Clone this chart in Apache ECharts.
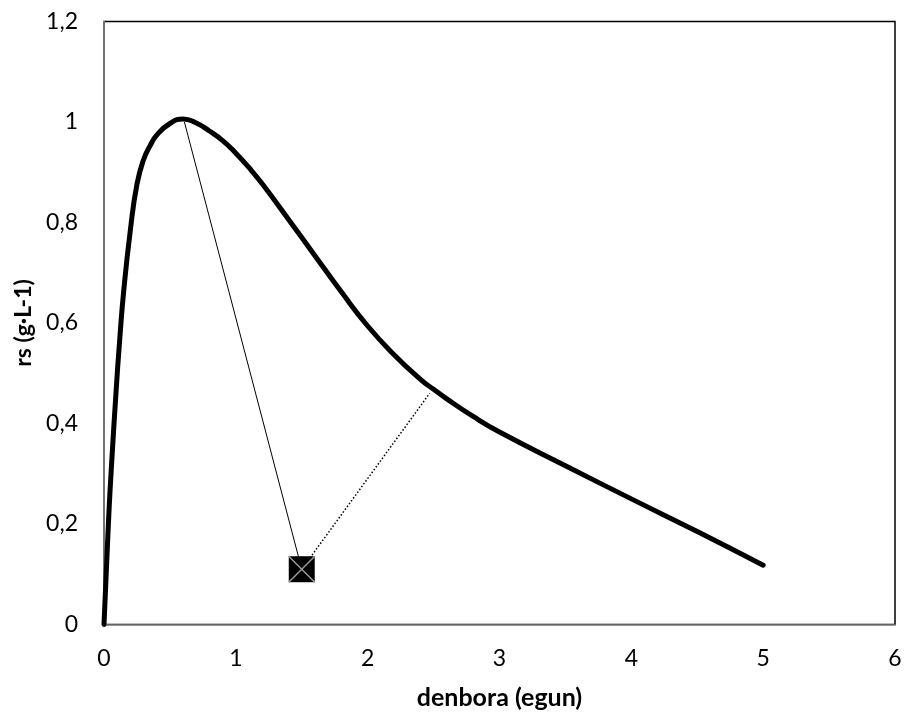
<!DOCTYPE html>
<html>
<head>
<meta charset="utf-8">
<script src="https://cdn.jsdelivr.net/npm/echarts@6/dist/echarts.min.js"></script>
<style>html,body{margin:0;padding:0;background:#fff;}#c{width:906px;height:713px;}</style>
</head>
<body>
<div id="c"></div>
<script>
// Curve: rs vs denbora
const curveX = [0, 0.02, 0.04, 0.06, 0.09, 0.12, 0.15, 0.2, 0.25, 0.3, 0.35, 0.4, 0.5, 0.6, 0.7, 0.8, 0.9, 1.0, 1.1, 1.2, 1.4, 1.6, 1.8, 2.0, 2.2, 2.4, 2.5, 2.6, 2.8, 3.0, 3.5, 4.0, 4.5, 5.0];
const curveY = [0, 0.12, 0.237, 0.33, 0.457, 0.57, 0.665, 0.785, 0.876, 0.925, 0.953, 0.974, 0.997, 1.006, 0.998, 0.982, 0.963, 0.938, 0.909, 0.877, 0.806, 0.734, 0.662, 0.594, 0.537, 0.488, 0.468, 0.449, 0.414, 0.383, 0.316, 0.25, 0.185, 0.118];
// Thin solid line (peak -> point)
const solidLineX = [0.61, 1.5];
const solidLineY = [1.0, 0.11];
// Dotted line (point -> curve)
const dottedLineX = [1.5, 2.47];
const dottedLineY = [0.11, 0.46];
// Marker point
const pointX = [1.5];
const pointY = [0.11];
// Axis ticks
const xTicks = [0, 1, 2, 3, 4, 5, 6];
const yTicks = [0, 0.2, 0.4, 0.6, 0.8, 1, 1.2];

const zip = (a, b) => a.map((v, i) => [v, b[i]]);
const font = 'Lato, "Open Sans", sans-serif';

const chart = echarts.init(document.getElementById('c'), null, {renderer: 'canvas'});
chart.setOption({
  animation: false,
  backgroundColor: '#fff',
  grid: {left: 104, right: 11, top: 21.5, bottom: 88.5, show: true, borderColor: '#000', borderWidth: 1.5, backgroundColor: 'transparent',
    containLabel: false, outerBoundsMode: 'none'},
  xAxis: {
    type: 'value', min: xTicks[0], max: xTicks[xTicks.length - 1], interval: 1,
    name: 'denbora (egun)', nameLocation: 'middle', nameGap: 61, nameMoveOverlap: false,
    nameTextStyle: {fontFamily: font, fontWeight: 'bold', fontSize: 25, color: '#000'},
    axisLine: {show: true, lineStyle: {color: '#868686', width: 1.5}},
    axisTick: {show: false},
    splitLine: {show: false},
    axisLabel: {fontFamily: font, fontSize: 23, color: '#000', margin: 23}
  },
  yAxis: {
    type: 'value', min: yTicks[0], max: yTicks[yTicks.length - 1], interval: 0.2,
    name: 'rs (g·L-1)', nameLocation: 'middle', nameGap: 69, nameRotate: 90, nameMoveOverlap: false,
    nameTextStyle: {fontFamily: font, fontWeight: 'bold', fontSize: 23, color: '#000'},
    axisLine: {show: true, lineStyle: {color: '#868686', width: 1.5}},
    axisTick: {show: false},
    splitLine: {show: false},
    axisLabel: {fontFamily: font, fontSize: 23, color: '#000', margin: 26,
      formatter: v => String(Math.round(v * 10) / 10).replace('.', ',')}
  },
  series: [
    {type: 'line', data: zip(solidLineX, solidLineY), showSymbol: false, symbol: 'none',
      lineStyle: {color: '#000', width: 1}, z: 2},
    {type: 'line', data: zip(dottedLineX, dottedLineY), showSymbol: false, symbol: 'none',
      lineStyle: {color: '#000', width: 1.5, type: [1.5, 2]}, z: 2},
    {type: 'line', data: zip(curveX, curveY), showSymbol: false, symbol: 'none', smooth: 0.5,
      lineStyle: {color: '#000', width: 5, cap: 'round', join: 'round'}, z: 3},
    {type: 'scatter', data: zip(pointX, pointY), symbol: 'rect', symbolSize: 26,
      itemStyle: {color: '#000', opacity: 1}, z: 4},
    {type: 'scatter', data: zip(pointX, pointY), symbol: 'path://M0,0L10,10M10,0L0,10', symbolSize: 26,
      itemStyle: {color: 'none', borderColor: '#9a9a9a', borderWidth: 1.5, opacity: 1}, z: 5}
  ]
});
</script>
</body>
</html>
